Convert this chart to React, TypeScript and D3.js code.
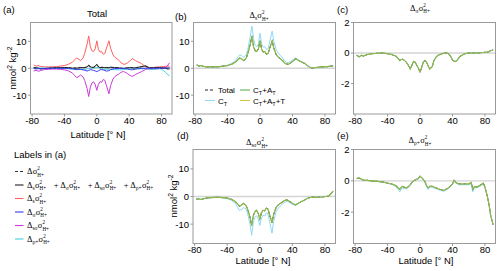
import * as d3 from 'd3'

// latitude grid (deg N)
const lat = [-78, -75, -72, -70, -65, -60, -55, -50, -45, -40, -35, -30, -27, -25, -22, -20, -17, -15, -12, -10, -8, -6, -4, -2, 0, 2, 4, 6, 8, 10, 12, 15, 17, 20, 22, 25, 28, 30, 33, 35, 38, 40, 42, 44, 46, 48, 50, 55, 60, 63, 65, 67, 70, 75, 78, 80, 83, 85, 87, 90]

// Δs σ² (panel b, red in a)
const sTotal = [1.2, 0.8, 1.0, 0.7, 0.5, 0.5, 0.5, 0.6, 0.8, 1.0, 1.5, 2.3, 3.2, 3.8, 3.3, 2.8, 3.8, 5.5, 9, 12, 8, 6.5, 6.2, 7.2, 10.2, 7, 6, 6.2, 5.2, 5.5, 7.5, 10.2, 7.5, 5, 4.2, 3.5, 2.8, 2, 1.5, 1.5, 2, 2.5, 3, 3.6, 3.2, 2.8, 2.5, 1.8, 0.6, 0.2, 0.1, 0.2, 0.3, 0.5, 0.5, 0.6, 0.6, 0.7, 0.8, 0.8]
const sCT = [1.2, 0.8, 1.0, 0.7, 0.5, 0.5, 0.5, 0.6, 0.8, 1.1, 1.8, 3, 4.3, 5, 4.5, 4, 5, 7, 12, 15.6, 11, 8.5, 8, 9, 13, 9, 7.8, 8, 7, 7.2, 10, 13.8, 10, 6.8, 5.8, 4.8, 3.8, 2.8, 2.2, 2.1, 2.6, 3.1, 3.5, 3.7, 3.3, 2.9, 2.5, 1.8, 0.6, 0.2, 0.1, 0.2, 0.3, 0.5, 0.5, 0.6, 0.6, 0.7, 0.8, 0.8]

// Δσ σ² (panel c, blue in a)
const sigTotal = [-0.15, -0.25, -0.15, -0.2, -0.1, -0.05, -0.03, 0, 0, -0.05, -0.1, -0.2, -0.35, -0.5, -0.4, -0.45, -0.6, -0.75, -1.05, -0.8, -0.55, -0.6, -0.8, -1.0, -1.25, -0.95, -0.6, -0.5, -0.6, -0.85, -1.05, -0.9, -0.5, -0.25, -0.15, -0.1, -0.03, 0, 0, -0.05, -0.25, -0.45, -0.55, -0.55, -0.45, -0.3, -0.2, -0.05, 0, 0, 0, 0, 0, 0.02, 0.03, 0.05, 0.05, 0.1, 0.15, 0.2]

// Δsσ σ² (panel d, magenta in a)
const ssTotal = [-1, -0.8, -1.1, -0.9, -0.5, -0.4, -0.3, -0.3, -0.4, -0.6, -1, -1.8, -2.8, -3.5, -3, -2.5, -3.2, -4.5, -7.5, -10.5, -7, -5.5, -5, -6, -8.2, -6, -5, -5.2, -4.2, -4.5, -6.5, -9.5, -6.5, -4, -3.2, -2.5, -2, -1.5, -1.2, -1.5, -2, -2.5, -2.8, -3, -2.7, -2.3, -2, -1.3, -0.5, -0.3, -0.2, -0.3, -0.3, -0.2, -0.1, 0, 0.1, 0.3, 0.8, 2]
const ssCT = [-1, -0.8, -1.1, -0.9, -0.5, -0.4, -0.3, -0.3, -0.5, -0.8, -1.3, -2.5, -4, -5, -4.6, -4, -4.5, -6, -10, -14, -9.5, -7.5, -7, -8, -10.5, -8, -6.8, -7, -6, -6.2, -9, -13.3, -9, -5.5, -4.5, -3.5, -2.7, -2.2, -1.8, -2, -2.4, -2.8, -3, -3.2, -2.8, -2.4, -2, -1.3, -0.5, -0.3, -0.2, -0.3, -0.3, -0.2, -0.1, 0, 0.1, 0.3, 0.8, 2]

// Δρ+ σ² (panel e, cyan in a)
const rhoTotal = [0.15, 0.18, 0.1, 0.05, 0.03, 0, -0.02, -0.05, -0.08, -0.15, -0.2, -0.3, -0.45, -0.55, -0.35, -0.4, -0.45, -0.4, -0.25, -0.1, 0, 0.05, 0.1, 0.15, 0.3, 0.2, 0.1, -0.05, -0.3, -0.45, -0.35, -0.35, -0.4, -0.45, -0.5, -0.55, -0.6, -0.6, -0.5, -0.45, -0.3, -0.2, 0.05, -0.1, -0.15, -0.2, -0.2, -0.2, -0.2, -0.1, -0.55, -0.35, -0.4, -0.25, -0.15, -0.4, -1.0, -1.5, -2.2, -2.8]
const rhoCT = [0.15, 0.18, 0.1, 0.05, 0.03, 0, -0.02, -0.05, -0.08, -0.15, -0.22, -0.35, -0.55, -0.7, -0.45, -0.5, -0.5, -0.45, -0.3, -0.12, 0, 0.05, 0.1, 0.15, 0.28, 0.18, 0.05, -0.1, -0.35, -0.55, -0.4, -0.4, -0.45, -0.5, -0.55, -0.6, -0.65, -0.65, -0.55, -0.5, -0.35, -0.2, 0.02, -0.15, -0.2, -0.25, -0.25, -0.25, -0.25, -0.2, -0.7, -0.45, -0.45, -0.3, -0.2, -0.45, -1.0, -1.5, -2.2, -2.8]

// panel a: total and sum of components
const aTotal = [0.2, 0.1, 0, -0.2, -0.1, 0, 0.1, 0.2, 0.2, 0.2, 0.2, 0, 0.1, 0, 0.1, 0.2, 0.2, 0.2, 0.4, 0.9, 0.5, 0.3, 0.3, 0.6, 1.2, 0.5, 0.2, 0.3, 0.3, 0.2, 0.2, 0.2, 0.3, 0.3, 0.2, 0.2, 0.1, 0, -0.1, 0, 0.1, 0.2, 0.2, 0.2, 0.1, 0.2, 0.3, 0.5, 0.8, 0.4, 0.2, 0.1, 0.2, 0.2, 0.2, 0.1, 0.1, 0, -0.2, -0.3]
const aSum = [0.2, 0.1, 0, -0.2, -0.1, 0, 0.1, 0.2, 0.2, 0.3, 0.2, 0, 0.1, 0, 0.2, 0.3, 0.2, 0.3, 0.5, 1.2, 0.6, 0.3, 0.4, 0.8, 1.5, 0.6, 0.2, 0.4, 0.3, 0.2, 0.3, 0.2, 0.4, 0.3, 0.3, 0.2, 0.1, 0, -0.1, 0, 0.2, 0.2, 0.3, 0.2, 0.1, 0.2, 0.3, 0.6, 0.9, 0.5, 0.2, 0.1, 0.2, 0.3, 0.2, 0.1, 0.1, 0, -0.2, -0.3]

const xTicks = [-80, -40, 0, 40, 80]
const bigTicks = [-10, 0, 10]
const smallTicks = [-2, 0, 2]

const SANS = 'Liberation Sans, Arial, Helvetica, sans-serif'
const SERIF = 'Liberation Serif, DejaVu Serif, serif'
const FRAME = '#9a9a9a'

const RED = '#ff5e5e'
const BLUE = '#3b3bf0'
const MAGENTA = '#c93ad8'
const CYAN = '#3fd3df'
const LIGHTBLUE = '#8fd9f6'
const GREEN = '#4aa84a'
const YELLOW = '#d8c040'

type Piece = { t: string; s?: number; sh?: number; dx?: number }
type Series = { values: number[]; color: string; dash?: string; width?: number; opacity?: number }

function Rich({ pieces, fs, ...rest }: { pieces: Piece[]; fs: number; [k: string]: any }) {
  let prev = 0
  return (
    <text fontSize={fs} {...rest}>
      {pieces.map((p, i) => {
        const sh = (p.sh ?? 0) * fs
        const dy = sh - prev
        prev = sh
        return (
          <tspan key={i} dy={dy || undefined} dx={p.dx ? p.dx * fs : undefined} fontSize={(p.s ?? 1) * fs}>
            {p.t}
          </tspan>
        )
      })}
    </text>
  )
}

// Δ_k σ²_{H+}
function term(sub: string, lead = 0): Piece[] {
  const out: Piece[] = [{ t: 'Δ', dx: lead }]
  if (sub) out.push({ t: sub, s: 0.65, sh: 0.28 })
  out.push({ t: 'σ', sh: 0, dx: 0.03 })
  out.push({ t: '2', s: 0.6, sh: -0.42 })
  out.push({ t: 'H+', s: 0.6, sh: 0.32, dx: -0.3 })
  return out
}

const sumTerms: Piece[] = [
  ...term('s'), { t: '+', sh: 0, dx: 0.9 },
  ...term('σ', 0.2), { t: '+', sh: 0, dx: 0.9 },
  ...term('sσ', 0.2), { t: '+', sh: 0, dx: 0.9 },
  ...term('ρ+', 0.2),
]

function Panel({ x0, x1, y0, y1, yDomain, yTicks, series, id }: {
  x0: number; x1: number; y0: number; y1: number; yDomain: [number, number]; yTicks: number[]; series: Series[]; id: string
}) {
  const x = d3.scaleLinear().domain([-82, 93]).range([x0, x1])
  const y = d3.scaleLinear().domain(yDomain).range([y1, y0])
  const line = d3.line<number>().x((_, i) => x(lat[i])).y(d => y(d))
  return (
    <g>
      <clipPath id={id}>
        <rect x={x0} y={y0} width={x1 - x0} height={y1 - y0} />
      </clipPath>
      <line x1={x0} x2={x1} y1={y(0)} y2={y(0)} stroke="#d4d4d4" strokeWidth={1.3} />
      <g clipPath={`url(#${id})`}>
        {series.map((s, i) => (
          <path key={i} d={line(s.values) ?? ''} fill="none" stroke={s.color}
            strokeWidth={s.width ?? 1} strokeDasharray={s.dash} opacity={s.opacity ?? 1} />
        ))}
      </g>
      <rect x={x0} y={y0} width={x1 - x0} height={y1 - y0} fill="none" stroke={FRAME} strokeWidth={1} />
      {xTicks.map(t => (
        <g key={t}>
          <line x1={x(t)} x2={x(t)} y1={y1} y2={y1 + 2.5} stroke={FRAME} />
          <text x={x(t)} y={y1 + 9.5} textAnchor="middle" fontFamily={SANS} fontSize={9.5}>{t}</text>
        </g>
      ))}
      {yTicks.map(t => (
        <g key={t}>
          <line x1={x0 - 2.5} x2={x0} y1={y(t)} y2={y(t)} stroke={FRAME} />
          <text x={x0 - 4} y={y(t) + 3.4} textAnchor="end" fontFamily={SANS} fontSize={9.5}>{t}</text>
        </g>
      ))}
    </g>
  )
}

const unitPieces: Piece[] = [{ t: 'nmol' }, { t: '2', s: 0.7, sh: -0.4 }, { t: ' kg', sh: 0 }, { t: '-2', s: 0.7, sh: -0.4 }]

function compSeries(total: number[], ct: number[]): Series[] {
  return [
    { values: total, color: '#222', dash: '3,2', width: 1 },
    { values: ct, color: LIGHTBLUE, width: 1 },
    { values: total, color: GREEN, width: 1.1 },
    { values: total, color: YELLOW, width: 1, opacity: 0.6 },
  ]
}

export default function App() {
  const legendRows: { color: string; dash?: string; pieces: Piece[] }[] = [
    { color: '#333', dash: '3,2', pieces: term('') },
    { color: '#222', pieces: sumTerms },
    { color: RED, pieces: term('s') },
    { color: BLUE, pieces: term('σ') },
    { color: MAGENTA, pieces: term('sσ') },
    { color: CYAN, pieces: term('ρ+') },
  ]
  const ctPieces = (extra: Piece[]): Piece[] => [{ t: 'C' }, { t: 'T', s: 0.7, sh: 0.25 }, ...extra]
  return (
    <svg width={500} height={271} style={{ position: 'absolute', left: 0, top: 0, background: '#fff' }}>
      {/* panel a */}
      <text x={3} y={13} fontFamily={SANS} fontSize={9.5}>(a)</text>
      <text x={97} y={17} textAnchor="middle" fontFamily={SANS} fontSize={9.5}>Total</text>
      <Panel id="ca" x0={30.5} x1={172} y0={22.5} y1={114} yDomain={[-17, 17]} yTicks={bigTicks}
        series={[
          { values: sTotal, color: RED },
          { values: ssTotal, color: MAGENTA },
          { values: rhoTotal, color: CYAN },
          { values: aTotal, color: '#333', dash: '3,2' },
          { values: aSum, color: '#222' },
          { values: sigTotal, color: BLUE },
        ]} />
      <Rich pieces={unitPieces} fs={9.5} fontFamily={SANS} textAnchor="middle" transform="translate(15.5,68) rotate(-90)" />
      <text x={98} y={137.5} textAnchor="middle" fontFamily={SANS} fontSize={9.5}>Latitude [° N]</text>

      {/* panel b */}
      <text x={175} y={19.5} fontFamily={SANS} fontSize={9.5}>(b)</text>
      <Rich pieces={term('s')} fs={8.5} fontFamily={SERIF} textAnchor="middle" x={259} y={18} />
      <Panel id="cb" x0={193.5} x1={335.5} y0={22.5} y1={114} yDomain={[-17, 17]} yTicks={bigTicks}
        series={compSeries(sTotal, sCT)} />
      <line x1={205} x2={215} y1={90} y2={90} stroke="#222" strokeDasharray="3,2" />
      <text x={218} y={93} fontFamily={SANS} fontSize={8}>Total</text>
      <line x1={205} x2={215} y1={100.5} y2={100.5} stroke={LIGHTBLUE} />
      <Rich pieces={ctPieces([])} fs={8} fontFamily={SANS} x={218} y={103.5} />
      <line x1={240} x2={250} y1={90} y2={90} stroke={GREEN} />
      <Rich pieces={ctPieces([{ t: '+A', sh: 0 }, { t: 'T', s: 0.7, sh: 0.25 }])} fs={8} fontFamily={SANS} x={253} y={93} />
      <line x1={240} x2={250} y1={100.5} y2={100.5} stroke={YELLOW} />
      <Rich pieces={ctPieces([{ t: '+A', sh: 0 }, { t: 'T', s: 0.7, sh: 0.25 }, { t: '+T', sh: 0 }])} fs={8} fontFamily={SANS} x={253} y={103.5} />

      {/* panel c */}
      <text x={337} y={13} fontFamily={SANS} fontSize={9.5}>(c)</text>
      <Rich pieces={term('σ')} fs={8.5} fontFamily={SERIF} textAnchor="middle" x={420} y={10.5} />
      <Panel id="cc" x0={353.5} x1={495.5} y0={22.5} y1={114} yDomain={[-4, 2]} yTicks={smallTicks}
        series={compSeries(sigTotal, sigTotal)} />

      {/* panel d */}
      <text x={177} y={138.5} fontFamily={SANS} fontSize={9.5}>(d)</text>
      <Rich pieces={term('sσ')} fs={8.5} fontFamily={SERIF} textAnchor="middle" x={257} y={145} />
      <Panel id="cd" x0={193} x1={335.5} y0={149.5} y1={243.5} yDomain={[-17, 17]} yTicks={bigTicks}
        series={compSeries(ssTotal, ssCT)} />
      <Rich pieces={unitPieces} fs={9.5} fontFamily={SANS} textAnchor="middle" transform="translate(176.5,196) rotate(-90)" />
      <text x={263} y={263.5} textAnchor="middle" fontFamily={SANS} fontSize={9.5}>Latitude [° N]</text>

      {/* panel e */}
      <text x={337} y={139} fontFamily={SANS} fontSize={9.5}>(e)</text>
      <Rich pieces={term('ρ+')} fs={8.5} fontFamily={SERIF} textAnchor="middle" x={420} y={143} />
      <Panel id="ce" x0={353.5} x1={495.5} y0={149.5} y1={243.5} yDomain={[-4, 2]} yTicks={smallTicks}
        series={compSeries(rhoTotal, rhoCT)} />
      <text x={426} y={263.5} textAnchor="middle" fontFamily={SANS} fontSize={9.5}>Latitude [° N]</text>

      {/* labels legend */}
      <text x={14} y={158} fontFamily={SANS} fontSize={9.5}>Labels in (a)</text>
      {legendRows.map((r, i) => {
        const yy = 171.5 + i * 13.5
        return (
          <g key={i}>
            <line x1={15} x2={23.5} y1={yy} y2={yy} stroke={r.color} strokeDasharray={r.dash} strokeWidth={1.1} />
            <Rich pieces={r.pieces} fs={8.5} fontFamily={SERIF} x={27} y={yy + 2.5} />
          </g>
        )
      })}
    </svg>
  )
}
